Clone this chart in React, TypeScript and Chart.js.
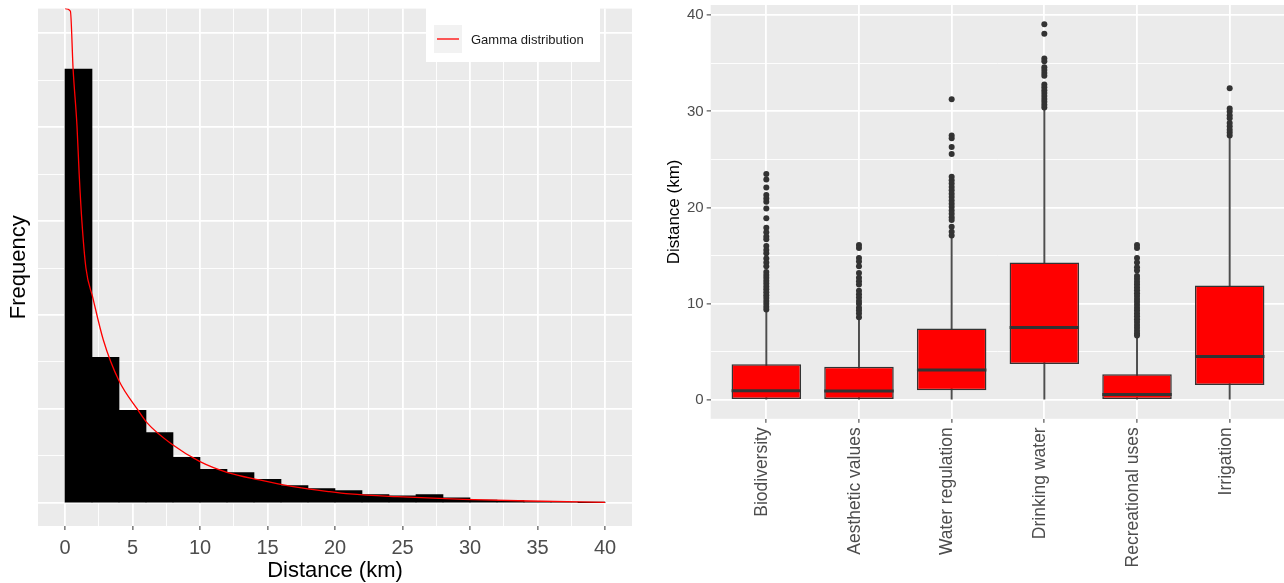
import React, { useEffect, useRef } from 'react';
import { Chart, registerables } from 'chart.js';

Chart.register(...registerables);

const FONT = "'Liberation Sans', Arial, Helvetica, sans-serif";

// ---------- Left panel: histogram + fitted gamma curve ----------
const BIN_CENTERS = [1, 3, 5, 7, 9, 11, 13, 15, 17, 19, 21, 23, 25, 27, 29, 31, 33, 35, 37, 39];
const BIN_COUNTS = [4617, 1550, 986, 748, 486, 358, 323, 252, 184, 152, 133, 88, 76, 88, 56, 32, 25, 14, 8, 3];
const GAMMA_X = [0, 0.4, 0.6, 0.89, 1.05, 1.25, 1.55, 2.05, 2.84, 4.0, 5.4, 6.1, 8, 10, 12, 14.4, 16.9, 19.6, 21.1, 24.6, 29.5, 34.4, 40];
const GAMMA_Y = [5260, 5234, 4617, 4006, 3500, 3000, 2500, 2191, 1734, 1300, 990, 850, 617, 440, 326, 245, 174, 120, 96, 67, 39, 21, 7];
const HIST_X_TICKS = [0, 2.5, 5, 7.5, 10, 12.5, 15, 17.5, 20, 22.5, 25, 27.5, 30, 32.5, 35, 37.5, 40];
const HIST_Y_TICKS = [0, 500, 1000, 1500, 2000, 2500, 3000, 3500, 4000, 4500, 5000];
const LEGEND_LABEL = 'Gamma distribution';

// ---------- Right panel: box plots ----------
const CATEGORIES = ['Biodiversity', 'Aesthetic values', 'Water regulation', 'Drinking water', 'Recreational uses', 'Irrigation'];
const WHISKER_LOW = [0, 0, 0, 0, 0, 0];
const Q1 = [0, 0, 1.0, 3.75, 0, 1.55];
const MEDIAN = [0.95, 0.93, 3.12, 7.54, 0.58, 4.52];
const Q3 = [3.72, 3.46, 7.42, 14.3, 2.67, 11.9];
const WHISKER_HIGH = [9.2, 8.4, 17.0, 30.2, 6.6, 27.4];

const OUT_BIODIVERSITY = [23.48, 22.93, 22.1, 21.3, 20.95, 20.6, 19.9, 18.9, 17.9, 17.45, 17.0, 16.7, 16.0, 15.6, 15.25, 14.7, 14.3, 13.9, 13.3, 13.0, 12.7, 12.4, 12.1, 11.8, 11.5, 11.2, 10.9, 10.6, 10.3, 10.0, 9.7, 9.4];
const OUT_AESTHETIC = [16.1, 15.8, 14.75, 14.4, 13.9, 13.2, 12.7, 12.35, 12.0, 11.35, 11.0, 10.65, 10.3, 10.0, 9.6, 9.3, 8.98, 8.6];
const OUT_WATER_REG = [31.27, 27.5, 27.2, 26.3, 25.56, 23.2, 22.85, 22.5, 22.15, 21.8, 21.45, 21.1, 20.75, 20.4, 20.05, 19.7, 19.35, 19.0, 18.7, 18.0, 17.5, 17.1];
const OUT_DRINKING = [39.06, 38.06, 35.5, 35.2, 34.6, 34.3, 34.0, 33.7, 32.8, 32.5, 32.2, 31.9, 31.6, 31.3, 31.0, 30.7, 30.4];
const OUT_RECREATION = [16.1, 15.8, 14.75, 14.3, 13.8, 13.45, 12.9, 12.6, 12.3, 12.0, 11.7, 11.4, 11.1, 10.8, 10.5, 10.2, 9.9, 9.6, 9.3, 9.0, 8.7, 8.4, 8.1, 7.8, 7.5, 7.2, 6.9, 6.7];
const OUT_IRRIGATION = [32.4, 30.3, 30.0, 29.6, 29.3, 28.8, 28.45, 28.1, 27.8, 27.5];
const OUTLIERS = [OUT_BIODIVERSITY, OUT_AESTHETIC, OUT_WATER_REG, OUT_DRINKING, OUT_RECREATION, OUT_IRRIGATION];
const BOX_Y_TICKS = [0, 5, 10, 15, 20, 25, 30, 35, 40];

const PANEL_BG = '#EBEBEB';

const panelBg = {
  id: 'panelBg',
  beforeDraw(chart: any) {
    const { ctx, chartArea: a } = chart;
    ctx.save();
    ctx.fillStyle = PANEL_BG;
    ctx.fillRect(a.left, a.top, a.right - a.left, a.bottom - a.top);
    ctx.restore();
  },
};

const gammaLegend = {
  id: 'gammaLegend',
  afterDraw(chart: any) {
    const { ctx, chartArea: a } = chart;
    const w = 174;
    const h = 54;
    const right = a.right - 32;
    const top = a.top - 0.6;
    const left = right - w;
    ctx.save();
    ctx.fillStyle = '#ffffff';
    ctx.fillRect(left, top, w, h);
    ctx.fillStyle = '#F2F2F2';
    ctx.fillRect(left + 8, top + 17, 28, 28);
    ctx.strokeStyle = '#FF0000';
    ctx.lineWidth = 1.3;
    ctx.beginPath();
    ctx.moveTo(left + 11, top + 31);
    ctx.lineTo(left + 33, top + 31);
    ctx.stroke();
    ctx.fillStyle = '#1a1a1a';
    ctx.font = `13px ${FONT}`;
    ctx.textBaseline = 'middle';
    ctx.textAlign = 'left';
    ctx.fillText(LEGEND_LABEL, left + 45, top + 32);
    ctx.restore();
  },
};

const isMajor = (v: number, step: number) => Math.abs(v / step - Math.round(v / step)) < 1e-6;

function HistogramChart() {
  const ref = useRef<HTMLCanvasElement | null>(null);
  useEffect(() => {
    if (!ref.current) return;
    const chart = new Chart(ref.current, {
      type: 'bar',
      data: {
        datasets: [
          {
            type: 'line',
            data: GAMMA_X.map((x, i) => ({ x, y: GAMMA_Y[i] })),
            borderColor: '#FF0000',
            borderWidth: 1.3,
            pointRadius: 0,
            cubicInterpolationMode: 'monotone',
            fill: false,
            order: 1,
          } as any,
          {
            type: 'bar',
            data: BIN_CENTERS.map((x, i) => ({ x, y: BIN_COUNTS[i] })),
            backgroundColor: '#000000',
            borderWidth: 0,
            barPercentage: 1,
            categoryPercentage: 1,
            grouped: false,
            order: 2,
          } as any,
        ],
      },
      options: {
        responsive: false,
        animation: false,
        devicePixelRatio: 1,
        events: [],
        layout: { autoPadding: false, padding: { top: 8.6, right: 8, left: 0, bottom: 0 } },
        plugins: { legend: { display: false }, tooltip: { enabled: false } },
        scales: {
          x: {
            type: 'linear',
            min: -2,
            max: 42,
            offset: false,
            afterBuildTicks: (s: any) => { s.ticks = HIST_X_TICKS.map((v) => ({ value: v })); },
            afterFit: (s: any) => { s.height = 57; s.paddingLeft = 0; s.paddingRight = 0; },
            border: { display: false },
            grid: {
              offset: false,
              color: '#ffffff',
              lineWidth: (c: any) => (c.tick && isMajor(c.tick.value, 5) ? 1.8 : 0.9),
              drawTicks: true,
              tickLength: 4,
              tickWidth: 1,
              tickColor: (c: any) => (c.tick && isMajor(c.tick.value, 5) ? '#333333' : 'rgba(0,0,0,0)'),
            },
            ticks: {
              autoSkip: false,
              maxRotation: 0,
              padding: 8,
              color: '#4D4D4D',
              font: { family: FONT, size: 20, lineHeight: 1 },
              callback: (v: any) => (isMajor(Number(v), 5) ? String(v) : ''),
            },
            title: {
              display: true,
              text: 'Distance (km)',
              color: '#000000',
              font: { family: FONT, size: 22, lineHeight: 1 },
              padding: { top: 0, bottom: 1 },
            },
          },
          y: {
            type: 'linear',
            min: -245,
            max: 5260,
            afterBuildTicks: (s: any) => { s.ticks = HIST_Y_TICKS.map((v) => ({ value: v })); },
            afterFit: (s: any) => { s.width = 38; s.paddingTop = 0; s.paddingBottom = 0; },
            border: { display: false },
            grid: {
              color: '#ffffff',
              lineWidth: (c: any) => (c.tick && isMajor(c.tick.value, 1000) ? 1.8 : 0.9),
              drawTicks: false,
            },
            ticks: { display: false },
            title: {
              display: true,
              text: 'Frequency',
              color: '#000000',
              font: { family: FONT, size: 22, lineHeight: 1 },
              padding: { top: 8, bottom: 0 },
            },
          },
        },
      } as any,
      plugins: [panelBg, gammaLegend],
    });
    return () => chart.destroy();
  }, []);
  return <canvas ref={ref} width={640} height={583} style={{ position: 'absolute', left: 0, top: 0, width: 640, height: 583 }} />;
}

function BoxplotChart() {
  const ref = useRef<HTMLCanvasElement | null>(null);
  useEffect(() => {
    if (!ref.current) return;
    const outlierPoints: { x: number; y: number }[] = [];
    OUTLIERS.forEach((list, i) => list.forEach((v) => outlierPoints.push({ x: i + 1, y: v })));
    const chart = new Chart(ref.current, {
      type: 'bar',
      data: {
        datasets: [
          {
            type: 'scatter',
            data: outlierPoints,
            pointRadius: 3,
            pointBackgroundColor: '#333333',
            pointBorderWidth: 0,
            order: 1,
          } as any,
          {
            type: 'scatter',
            data: MEDIAN.map((m, i) => ({ x: i + 1, y: m })),
            pointStyle: 'line',
            pointRadius: 34.7,
            pointBorderWidth: 3,
            pointBorderColor: '#333333',
            order: 2,
          } as any,
          {
            type: 'bar',
            data: Q1.map((q, i) => ({ x: i + 1, y: [q, Q3[i]] })),
            backgroundColor: '#FF0000',
            borderColor: '#333333',
            borderWidth: 1.5,
            borderSkipped: false,
            barPercentage: 0.75,
            categoryPercentage: 1,
            grouped: false,
            order: 3,
          } as any,
          {
            type: 'bar',
            data: WHISKER_LOW.map((lo, i) => ({ x: i + 1, y: [lo, WHISKER_HIGH[i]] })),
            backgroundColor: '#4D4D4D',
            borderWidth: 0,
            barThickness: 1.3,
            grouped: false,
            order: 4,
          } as any,
        ],
      },
      options: {
        responsive: false,
        animation: false,
        devicePixelRatio: 1,
        events: [],
        layout: { autoPadding: false, padding: { top: 5, right: 0, left: 0, bottom: 0 } },
        plugins: { legend: { display: false }, tooltip: { enabled: false } },
        scales: {
          x: {
            type: 'linear',
            min: 0.4,
            max: 6.586,
            offset: false,
            afterBuildTicks: (s: any) => { s.ticks = CATEGORIES.map((_, i) => ({ value: i + 1 })); },
            afterFit: (s: any) => { s.height = 164.2; s.paddingLeft = 0; s.paddingRight = 0; },
            border: { display: false },
            grid: {
              offset: false,
              color: '#ffffff',
              lineWidth: 1.8,
              drawTicks: true,
              tickLength: 4,
              tickWidth: 1,
              tickColor: '#333333',
            },
            ticks: {
              autoSkip: false,
              minRotation: 90,
              maxRotation: 90,
              padding: 4.5,
              labelOffset: -4,
              color: '#4D4D4D',
              font: { family: FONT, size: 17.5, lineHeight: 1 },
              callback: (_v: any, idx: number) => CATEGORIES[idx],
            },
          },
          y: {
            type: 'linear',
            min: -1.955,
            max: 41.06,
            afterBuildTicks: (s: any) => { s.ticks = BOX_Y_TICKS.map((v) => ({ value: v })); },
            afterFit: (s: any) => { s.width = 70.7; s.paddingTop = 0; s.paddingBottom = 0; },
            border: { display: false },
            grid: {
              color: '#ffffff',
              lineWidth: (c: any) => (c.tick && isMajor(c.tick.value, 10) ? 1.8 : 0.9),
              drawTicks: true,
              tickLength: 4,
              tickWidth: 1,
              tickColor: (c: any) => (c.tick && isMajor(c.tick.value, 10) ? '#333333' : 'rgba(0,0,0,0)'),
            },
            ticks: {
              padding: 3,
              color: '#4D4D4D',
              font: { family: FONT, size: 15, lineHeight: 1 },
              callback: (v: any) => (isMajor(Number(v), 10) ? String(v) : ''),
            },
            title: {
              display: true,
              text: 'Distance (km)',
              color: '#000000',
              font: { family: FONT, size: 17, lineHeight: 1 },
              padding: { top: 25.5, bottom: 0 },
            },
          },
        },
      } as any,
      plugins: [panelBg],
    });
    return () => chart.destroy();
  }, []);
  return <canvas ref={ref} width={644} height={583} style={{ position: 'absolute', left: 640, top: 0, width: 644, height: 583 }} />;
}

export default function App() {
  return (
    <div style={{ position: 'fixed', left: 0, top: 0, width: 1284, height: 583, overflow: 'hidden', background: '#ffffff' }}>
      <HistogramChart />
      <BoxplotChart />
    </div>
  );
}
